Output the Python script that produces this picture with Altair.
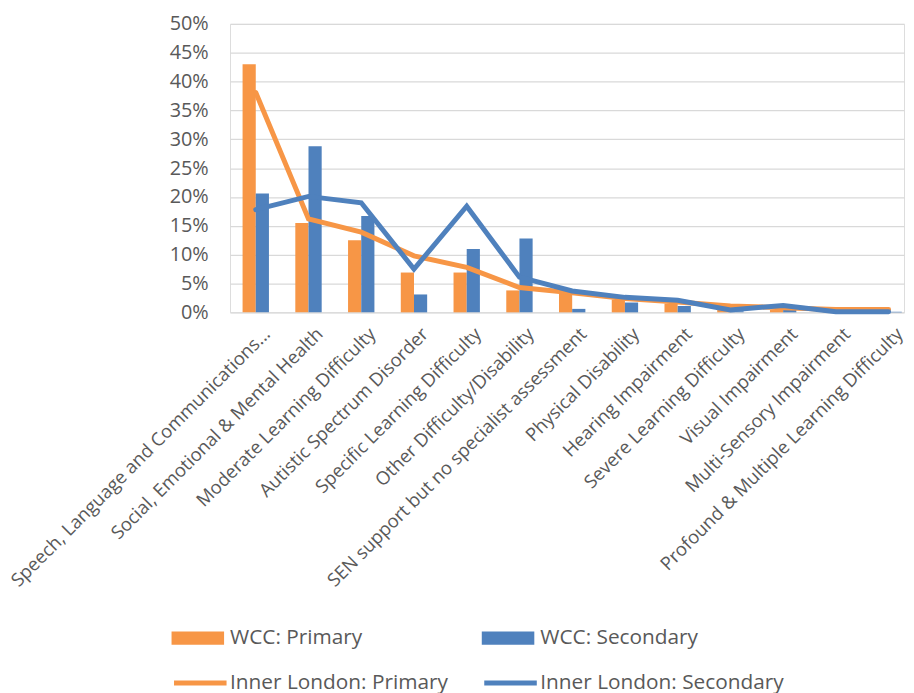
import altair as alt
import pandas as pd

categories = [
    "Speech, Language and Communications...",
    "Social, Emotional & Mental Health",
    "Moderate Learning Difficulty",
    "Autistic Spectrum Disorder",
    "Specific Learning Difficulty",
    "Other Difficulty/Disability",
    "SEN support but no specialist assessment",
    "Physical Disability",
    "Hearing Impairment",
    "Severe Learning Difficulty",
    "Visual Impairment",
    "Multi-Sensory Impairment",
    "Profound & Multiple Learning Difficulty",
]
wcc_primary = [43.0, 15.5, 12.5, 6.9, 6.9, 3.8, 3.2, 2.2, 1.5, 0.6, 0.4, 0.2, 0.3]
wcc_secondary = [20.6, 28.8, 16.7, 3.1, 11.0, 12.8, 0.6, 1.7, 1.1, 0.2, 0.5, 0.1, 0.1]
il_primary = [38.1, 16.2, 13.9, 9.8, 7.8, 4.3, 3.4, 2.4, 1.8, 1.1, 0.8, 0.5, 0.5]
il_secondary = [17.8, 20.1, 19.0, 7.5, 18.4, 6.1, 3.7, 2.6, 2.1, 0.4, 1.2, 0.1, 0.1]

bar_series = ["WCC: Primary", "WCC: Secondary"]
line_series = ["Inner London: Primary", "Inner London: Secondary"]
y_ticks = [0, 5, 10, 15, 20, 25, 30, 35, 40, 45, 50]

ORANGE = "#F79646"
BLUE = "#4F81BD"
TEXT = "#595959"
GRID = "#D9D9D9"
FONT = "Open Sans"

bar_rows, line_rows = [], []
for i, c in enumerate(categories):
    bar_rows.append({"cat": c, "order": i, "series": bar_series[0], "value": wcc_primary[i]})
    bar_rows.append({"cat": c, "order": i, "series": bar_series[1], "value": wcc_secondary[i]})
    line_rows.append({"cat": c, "order": i, "series": line_series[0], "value": il_primary[i]})
    line_rows.append({"cat": c, "order": i, "series": line_series[1], "value": il_secondary[i]})
bars_df = pd.DataFrame(bar_rows)
lines_df = pd.DataFrame(line_rows)

x_enc = alt.X(
    "cat:N",
    sort=categories,
    scale=alt.Scale(paddingInner=0.5, paddingOuter=0.14, align=0.85),
    axis=alt.Axis(
        title=None, labelAngle=-45, labelFontSize=18.6, labelColor=TEXT, labelFont=FONT,
        domain=False, ticks=False, labelPadding=12, labelOffset=5, labelLimit=600, grid=False,
    ),
)
y_enc = alt.Y(
    "value:Q",
    scale=alt.Scale(domain=[0, 50]),
    axis=alt.Axis(
        title=None, values=y_ticks, labelExpr="datum.value + '%'", domain=False, ticks=False,
        gridColor=GRID, gridWidth=1.3, labelFontSize=20, labelColor=TEXT, labelFont=FONT,
        labelPadding=22,
    ),
)

bar_legend = alt.Legend(
    title=None, orient="none", legendX=-59, legendY=593, direction="horizontal", columns=2,
    columnPadding=120, symbolType="M-1,-0.25H1V0.25H-1Z", symbolSize=2809, symbolStrokeWidth=0,
    labelFontSize=21, labelColor=TEXT, labelFont=FONT, labelOffset=6, labelLimit=400,
)
line_legend = alt.Legend(
    title=None, orient="none", legendX=-59, legendY=636, direction="horizontal", columns=2,
    columnPadding=26, symbolType="stroke", symbolSize=2809, symbolStrokeWidth=5,
    labelFontSize=21, labelColor=TEXT, labelFont=FONT, labelOffset=1, labelLimit=400,
)

bars = alt.Chart(bars_df).mark_bar().encode(
    x=x_enc,
    y=y_enc,
    xOffset=alt.XOffset("series:N", sort=bar_series),
    fill=alt.Fill("series:N", scale=alt.Scale(domain=bar_series, range=[ORANGE, BLUE]), legend=bar_legend),
)

def line_layer(name):
    return alt.Chart(lines_df).transform_filter(alt.datum.series == name).mark_line(
        strokeWidth=5, strokeCap="round", strokeJoin="miter"
    ).encode(
        x=x_enc,
        y=y_enc,
        order=alt.Order("order:Q"),
        stroke=alt.Stroke("series:N", scale=alt.Scale(domain=line_series, range=[ORANGE, BLUE]), legend=line_legend),
    )

chart = alt.layer(bars, line_layer(line_series[0]), line_layer(line_series[1])).properties(
    width=680, height=291,
    autosize=alt.AutoSizeParams(type="none"),
    padding={"left": 224, "top": 13, "right": 2, "bottom": 381},
).configure_view(stroke=None).configure(background="white")

chart.save("out.html", embed_options={"renderer": "svg", "actions": False})
